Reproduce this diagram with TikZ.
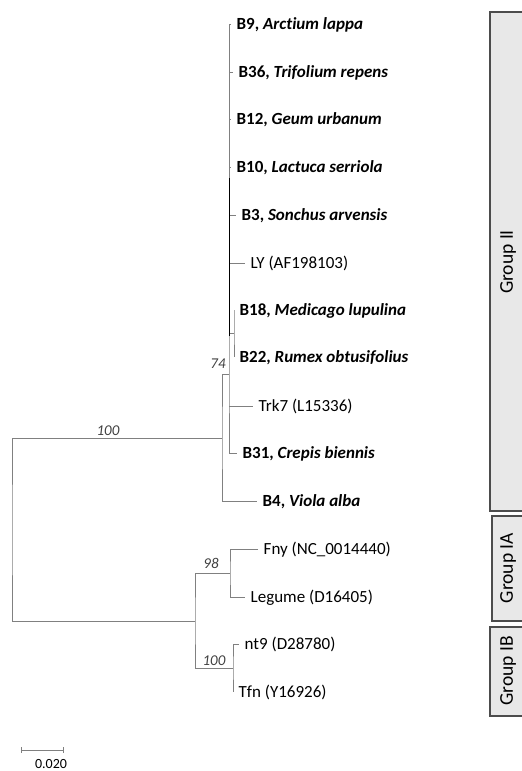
\documentclass[tikz,border=0pt]{standalone}
\usepackage{fontspec}
\setmainfont[Ligatures=NoCommon]{Carlito}
\definecolor{brgray}{gray}{.5}
\definecolor{boxgr}{gray}{.91}
\definecolor{boxln}{gray}{.3}
\tikzset{
  branch/.style={draw=brgray, line width=1pt},
  leaf/.style={anchor=west, inner xsep=5.5pt, inner ysep=0pt, text height=10.9pt, text depth=0pt,
    font=\fontsize{17}{20}\selectfont},
  boot/.style={inner sep=0pt, text=black!75, font=\fontsize{15}{18}\selectfont\itshape},
  grpbox/.style={fill=boxgr, draw=boxln, line width=1.2pt},
  grplabel/.style={rotate=90, inner sep=0pt, font=\fontsize{19.5}{22}\selectfont}
}

\begin{document}
\begin{tikzpicture}[x=1pt, y=-1pt]
    \useasboundingbox (0, 0) rectangle (522, 771);
    % group boxes
    \filldraw[grpbox](490, 12)rectangle(526, 511);
    \filldraw[grpbox](492, 516)rectangle(526, 621);
    \filldraw[grpbox](490, 627)rectangle(526, 716);
    \node[grplabel] (gII) at (508, 262) {Group II};
    \node[grplabel] (gIA) at (508, 568) {Group IA};
    \node[grplabel] (gIB) at (508, 671) {Group IB};
    % leaves
    \node[leaf] (b9)   at (231, 24)  {\textbf{B9, \textit{Arctium lappa}}};
    \node[leaf] (b36)  at (233, 72)  {\textbf{B36, \textit{Trifolium repens}}};
    \node[leaf] (b12)  at (231, 119) {\textbf{B12, \textit{Geum urbanum}}};
    \node[leaf] (b10)  at (231, 167) {\textbf{B10, \textit{Lactuca serriola}}};
    \node[leaf] (b3)   at (236, 215) {\textbf{B3, \textit{Sonchus arvensis}}};
    \node[leaf] (ly)   at (245, 263) {LY (AF198103)};
    \node[leaf] (b18)  at (234, 310) {\textbf{B18, \textit{Medicago lupulina}}};
    \node[leaf] (b22)  at (234, 357) {\textbf{B22, \textit{Rumex obtusifolius}}};
    \node[leaf] (trk7) at (253, 406) {Trk7 (L15336)};
    \node[leaf] (b31)  at (237, 453) {\textbf{B31, \textit{Crepis biennis}}};
    \node[leaf] (b4)   at (257, 501) {\textbf{B4, \textit{Viola alba}}};
    \node[leaf] (fny)  at (258, 549) {Fny (NC\_0014440)};
    \node[leaf] (leg)  at (245, 597) {Legume (D16405)};
    \node[leaf] (nt9)  at (239, 644) {nt9 (D28780)};
    \node[leaf] (tfn)  at (233, 692) {Tfn (Y16926)};
    % inner nodes
    \coordinate (root) at (12, 530);
    \coordinate (nII) at (222, 438);
    \coordinate (nC) at (229, 374);
    \coordinate (nE) at (234, 333);
    \coordinate (nI) at (195, 621);
    \coordinate (nIA) at (230, 573);
    \coordinate (nIB) at (233, 668);
    % branches
    \draw[branch](nII) -| (root) |- (nI);
    \draw[branch](nC) -| (nII) |- (b4.west);
    \draw[branch](b9.west) -| (nC) |- (b31.west);
    \foreach \lf in {b36, b12, b10, b3, ly, trk7}
        \draw[branch](nC |- \lf.west) -- (\lf.west);
    \draw[branch](nC |- nE) -- (nE);
    \draw[branch](b18.west) -| (nE) |- (b22.west);
    \draw[line width=1pt](229, 178) -- (229, 336);
    \draw[branch](nIA) -| (nI) |- (nIB);
    \draw[branch](fny.west) -| (nIA) |- (leg.west);
    \draw[branch](nt9.west) -| (nIB) |- (tfn.west);
    % bootstrap values
    \node[boot] (bs100a) at (108, 431) {100};
    \node[boot] (bs74) at (218, 364) {74};
    \node[boot] (bs98) at (211, 563) {98};
    \node[boot] (bs100b) at (214, 661) {100};
    % scale bar
    \draw[branch](21, 750) -- (63, 750);
    \draw[branch, line width=.8pt](21, 747) -- (21, 753);
    \draw[branch, line width=.8pt](63, 747) -- (63, 753);
    \node[inner sep=0pt, font=\fontsize{14}{16}\selectfont] (scl) at (51, 764) {0.020};
\end{tikzpicture}
\end{document}
